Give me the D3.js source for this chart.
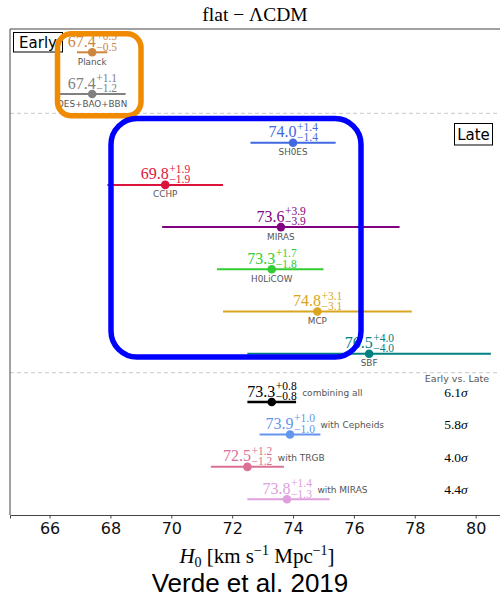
<!DOCTYPE html>
<html>
<head>
<meta charset="utf-8">
<script src="https://cdn.jsdelivr.net/npm/d3@7"></script>
<style>
  html, body { margin: 0; padding: 0; background: #fff; }
  svg { display: block; }
</style>
</head>
<body>
<svg id="chart" width="500" height="597"></svg>
<script>
// H0 measurements: early-universe, late-universe and combined late-universe estimates
const earlyNames  = ["Planck", "DES+BAO+BBN"];
const earlyValues = [67.4, 67.4];
const earlyPlus   = [0.5, 1.1];
const earlyMinus  = [0.5, 1.2];
const earlyColors = ["#cd853f", "#808080"];

const lateNames  = ["SH0ES", "CCHP", "MIRAS", "H0LiCOW", "MCP", "SBF"];
const lateValues = [74.0, 69.8, 73.6, 73.3, 74.8, 76.5];
const latePlus   = [1.4, 1.9, 3.9, 1.7, 3.1, 4.0];
const lateMinus  = [1.4, 1.9, 3.9, 1.8, 3.1, 4.0];
const lateColors = ["#4169e1", "#dc143c", "#800080", "#32cd32", "#daa520", "#008080"];

const combNames  = ["combining all", "with Cepheids", "with TRGB", "with MIRAS"];
const combValues = [73.3, 73.9, 72.5, 73.8];
const combPlus   = [0.8, 1.0, 1.2, 1.4];
const combMinus  = [0.8, 1.0, 1.2, 1.3];
const combColors = ["#000000", "#6495ed", "#db7093", "#dda0dd"];
const tensions   = ["6.1", "5.8", "4.0", "4.4"];

const xTicks = [66, 68, 70, 72, 74, 76, 78, 80];

const svg = d3.select("#chart");
const pLeft = 10, pTop = 29, pRight = 500, pBottom = 515;
const SERIF = "'Liberation Serif', 'DejaVu Serif', serif";
const SANS = "'DejaVu Sans', sans-serif";

const x = d3.scaleLinear().domain([64.7, 80.8]).range([pLeft, pRight]);
const yEarly = d3.scalePoint().domain(earlyNames).range([52.3, 94]);
const yLate  = d3.scalePoint().domain(lateNames).range([142.7, 353.7]);
const yComb  = d3.scalePoint().domain(combNames).range([402, 499.3]);

svg.append("defs").append("clipPath").attr("id", "plotclip")
  .append("rect").attr("x", pLeft).attr("y", pTop)
  .attr("width", pRight - pLeft).attr("height", pBottom - pTop);

const plot = svg.append("g").attr("clip-path", "url(#plotclip)");

// group separators
[113.3, 372.7].forEach(yy => {
  plot.append("line")
    .attr("x1", pLeft).attr("x2", pRight).attr("y1", yy).attr("y2", yy)
    .attr("stroke", "#c8c8c8").attr("stroke-width", 1)
    .attr("stroke-dasharray", "4,3");
});

// value with asymmetric errors, typeset as base^{+up}_{-down}
function mathLabel(g, cx, ly, value, up, down, color) {
  const base = g.append("text").text(value.toFixed(1))
    .attr("font-family", SERIF).attr("font-size", 16).attr("fill", color)
    .attr("y", ly - 5.5);
  const sup = g.append("text").text("+" + up.toFixed(1))
    .attr("font-family", SERIF).attr("font-size", 11.5).attr("fill", color)
    .attr("y", ly - 12);
  const sub = g.append("text").text("\u2212" + down.toFixed(1))
    .attr("font-family", SERIF).attr("font-size", 11.5).attr("fill", color)
    .attr("y", ly - 1.8);
  const wb = base.node().getComputedTextLength();
  const ws = Math.max(sup.node().getComputedTextLength(), sub.node().getComputedTextLength());
  const x0 = cx - (wb + ws) / 2;
  base.attr("x", x0);
  sup.attr("x", x0 + wb + 0.5);
  sub.attr("x", x0 + wb + 0.5);
  return x0 + wb + ws;
}

function drawRow(g, name, value, plus, minus, color, yy, nameBelow, lw) {
  g.append("line")
    .attr("x1", x(value - minus)).attr("x2", x(value + plus))
    .attr("y1", yy).attr("y2", yy)
    .attr("stroke", color).attr("stroke-width", lw);
  g.append("circle")
    .attr("cx", x(value)).attr("cy", yy).attr("r", 4.3)
    .attr("fill", color);
  mathLabel(g, x(value), yy, value, plus, minus, color);
  if (nameBelow) {
    g.append("text").text(name)
      .attr("x", x(value)).attr("y", yy + 12.5)
      .attr("text-anchor", "middle")
      .attr("font-family", SANS).attr("font-size", 8.8).attr("fill", "#555");
  } else {
    g.append("text").text(name)
      .attr("x", x(value + 1.0)).attr("y", yy - 6)
      .attr("font-family", SANS).attr("font-size", 9).attr("fill", "#555");
  }
}

earlyNames.forEach((n, i) =>
  drawRow(plot, n, earlyValues[i], earlyPlus[i], earlyMinus[i], earlyColors[i], yEarly(n), true, 2));
lateNames.forEach((n, i) =>
  drawRow(plot, n, lateValues[i], latePlus[i], lateMinus[i], lateColors[i], yLate(n), true, 2));
combNames.forEach((n, i) =>
  drawRow(plot, n, combValues[i], combPlus[i], combMinus[i], combColors[i], yComb(n), false, i === 0 ? 2.5 : 2));

// tension column
plot.append("text").text("Early vs. Late")
  .attr("x", 457).attr("y", 382.3).attr("text-anchor", "middle")
  .attr("font-family", SANS).attr("font-size", 9.5).attr("fill", "#555");
combNames.forEach((n, i) => {
  const t = plot.append("text")
    .attr("x", 456).attr("y", yComb(n) - 5).attr("text-anchor", "middle")
    .attr("font-family", SERIF).attr("font-size", 13.5).attr("fill", "#000");
  t.append("tspan").text(tensions[i]);
  t.append("tspan").text("\u03c3").attr("font-style", "italic");
});

// group tags
function tag(tx, ty, w, h, label) {
  plot.append("rect").attr("x", tx).attr("y", ty).attr("width", w).attr("height", h)
    .attr("fill", "#fff").attr("stroke", "#000").attr("stroke-width", 1);
  plot.append("text").text(label)
    .attr("x", tx + w / 2).attr("y", ty + h / 2 + 5.3).attr("text-anchor", "middle")
    .attr("font-family", SANS).attr("font-size", 15).attr("fill", "#000");
}
tag(13.5, 32.5, 49, 19.5, "Early");
tag(454.5, 123.5, 38, 21.5, "Late");

// frame
svg.append("line").attr("x1", pLeft).attr("x2", pRight).attr("y1", pTop).attr("y2", pTop)
  .attr("stroke", "#444").attr("stroke-width", 1.2);
svg.append("line").attr("x1", pLeft).attr("x2", pLeft).attr("y1", pTop).attr("y2", pBottom)
  .attr("stroke", "#444").attr("stroke-width", 1);

// x axis
const xAxis = d3.axisBottom(x).tickValues(xTicks).tickFormat(d3.format("d"))
  .tickSize(3.5).tickPadding(4);
const ax = svg.append("g").attr("transform", `translate(0,${pBottom})`).call(xAxis);
ax.select(".domain").attr("stroke", "#444").attr("stroke-width", 1);
ax.selectAll(".tick line").attr("stroke", "#444");
ax.selectAll(".tick text").attr("font-family", SANS).attr("font-size", 16).attr("fill", "#111");

// highlight boxes
svg.append("rect").attr("x", 57.5).attr("y", 33.8).attr("width", 83.5).attr("height", 82)
  .attr("rx", 14).attr("fill", "none").attr("stroke", "#f08a00").attr("stroke-width", 5.5);
svg.append("rect").attr("x", 111).attr("y", 118.5).attr("width", 250).attr("height", 238.5)
  .attr("rx", 26).attr("fill", "none").attr("stroke", "#0000ff").attr("stroke-width", 5.5);

// title
const title = svg.append("text").attr("x", 255).attr("y", 21).attr("text-anchor", "middle")
  .attr("font-family", SERIF).attr("font-size", 19.5).attr("fill", "#000");
title.append("tspan").text("flat \u2212 \u039bCDM");

// x label
const xl = svg.append("text").attr("x", 257).attr("y", 563).attr("text-anchor", "middle")
  .attr("font-family", SERIF).attr("font-size", 21).attr("fill", "#000");
xl.append("tspan").text("H").attr("font-style", "italic");
xl.append("tspan").text("0").attr("font-size", 14).attr("dy", 3.5);
xl.append("tspan").text(" [km s").attr("dy", -3.5);
xl.append("tspan").text("\u22121").attr("font-size", 14).attr("dy", -8);
xl.append("tspan").text(" Mpc").attr("dy", 8);
xl.append("tspan").text("\u22121").attr("font-size", 14).attr("dy", -8);
xl.append("tspan").text("]").attr("dy", 8);

// citation
svg.append("text").text("Verde et al. 2019")
  .attr("x", 250).attr("y", 592).attr("text-anchor", "middle")
  .attr("font-family", "'Liberation Sans', Arial, sans-serif").attr("font-size", 26)
  .attr("fill", "#000");
</script>
</body>
</html>
